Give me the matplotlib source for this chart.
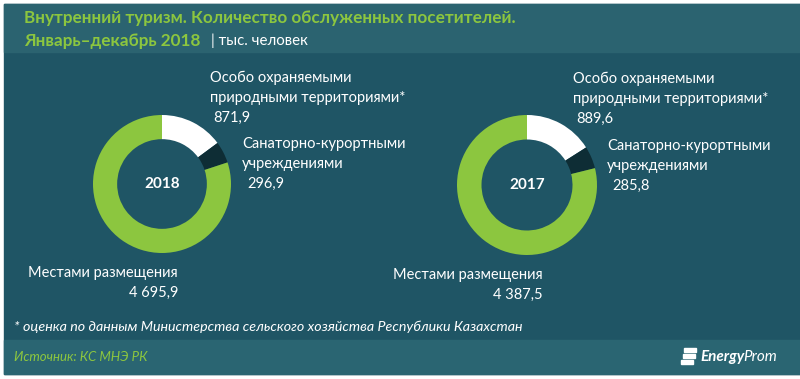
import matplotlib
matplotlib.use("Agg")
import matplotlib.pyplot as plt
from matplotlib.patches import Rectangle

plt.rcParams["font.family"] = ["Lato", "Noto Sans", "DejaVu Sans"]

# data
years = ["2018", "2017"]
categories = [
    ["Особо охраняемыми", "природными территориями*"],
    ["Санаторно-курортными", "учреждениями"],
    ["Местами размещения"],
]
values_2018 = [871.9, 296.9, 4695.9]
values_2017 = [889.6, 285.8, 4387.5]
value_labels_2018 = ["871,9", "296,9", "4 695,9"]
value_labels_2017 = ["889,6", "285,8", "4 387,5"]
colors = ["#ffffff", "#0e2d35", "#8cc63f"]

title_line1 = "Внутренний туризм. Количество обслуженных посетителей."
title_line2 = "Январь–декабрь 2018"
unit = "| тыс. человек"
footnote = "* оценка по данным Министерства сельского хозяйства Республики Казахстан"
source = "Источник: КС МНЭ РК"

W, H = 800, 379
fig = plt.figure(figsize=(W / 100, H / 100), dpi=100)
fig.patch.set_facecolor("white")

bg = fig.add_axes([0, 0, 1, 1])
bg.set_xlim(0, W)
bg.set_ylim(H, 0)
bg.axis("off")

# panel background
bg.add_patch(Rectangle((4, 4), W - 4, 370, color="#1f5565", zorder=0))
bg.add_patch(Rectangle((4, 4), W - 4, 48, color="#2b6370", zorder=1))
bg.add_patch(Rectangle((4, 340), W - 4, 34, color="#2a6572", zorder=1))

green = "#8cc63f"
bg.text(24, 18, title_line1, color=green, fontsize=12.3, fontweight="bold", va="center")
bg.text(24, 41, title_line2, color=green, fontsize=12.3, fontweight="bold", va="center")
bg.text(211, 41, unit, color="white", fontsize=10.8, va="center")

bg.text(14, 327, footnote, color="white", fontsize=10.3, style="italic", va="center")
bg.text(14, 357, source, color=green, fontsize=9.5, style="italic", va="center")

# logo
for i in range(3):
    bg.add_patch(Rectangle((684 - i * 1.5, 348 + i * 6), 12, 4, color="white", zorder=2))
bg.text(700, 357, "Energy", color="white", fontsize=11, fontweight="bold",
        style="italic", va="center")
bg.text(743, 357, "Prom", color="white", fontsize=11, style="italic", va="center")

donuts = [
    (years[0], values_2018, value_labels_2018, (162, 184), 69,
     [(210, 78), (242, 144), (178, 273)]),
    (years[1], values_2017, value_labels_2017, (527, 185), 70,
     [(573, 79), (607, 146), (543, 275)]),
]

lab = dict(color="white", fontsize=10.5, va="center")
for year, vals, vlabels, (cx, cy), r, lab_pos in donuts:
    ax = fig.add_axes([(cx - r) / W, 1 - (cy + r) / H, 2 * r / W, 2 * r / H])
    ax.pie(vals, colors=colors, startangle=90, counterclock=False,
           wedgeprops=dict(width=0.35, linewidth=0))
    ax.set_xlim(-1, 1)
    ax.set_ylim(-1, 1)
    ax.axis("off")
    ax.text(0, 0, year, color="white", fontsize=11, fontweight="bold",
            ha="center", va="center")

    (x1, y1), (x2, y2), (x3, y3) = lab_pos
    for k, line in enumerate(categories[0]):
        bg.text(x1, y1 + 20 * k, line, **lab)
    bg.text(x1 + 3, y1 + 40, vlabels[0], **lab)
    for k, line in enumerate(categories[1]):
        bg.text(x2, y2 + 20 * k, line, **lab)
    bg.text(x2 + 5, y2 + 40, vlabels[1], **lab)
    bg.text(x3, y3, categories[2][0], ha="right", **lab)
    bg.text(x3, y3 + 20, vlabels[2], ha="right", **lab)

fig.savefig("out.png", dpi=100, facecolor=fig.get_facecolor())
